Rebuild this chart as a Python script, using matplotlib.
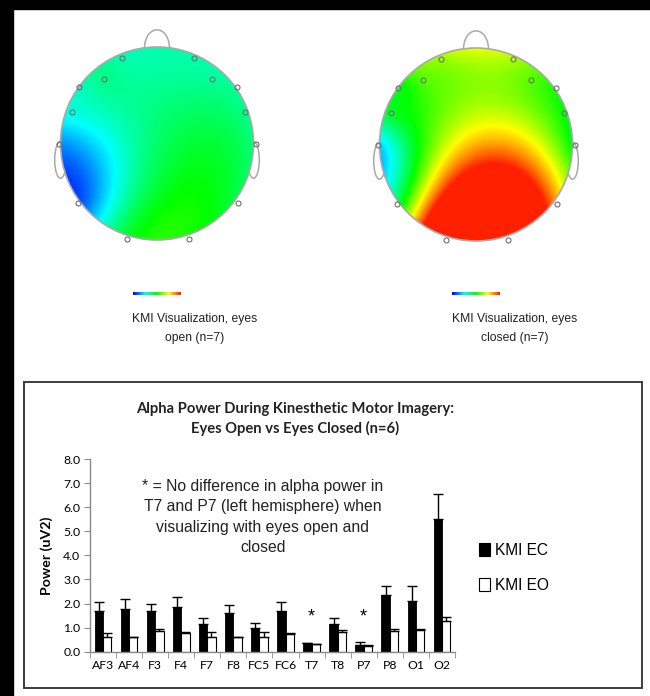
import numpy as np
import matplotlib
matplotlib.use('Agg')
import matplotlib.pyplot as plt
from matplotlib.colors import LinearSegmentedColormap
from matplotlib.patches import Circle, Ellipse, Rectangle, Patch, PathPatch
from matplotlib.path import Path

# bar chart data (n=6), alpha power in uV^2
channels = ['AF3', 'AF4', 'F3', 'F4', 'F7', 'F8', 'FC5', 'FC6',
            'T7', 'T8', 'P7', 'P8', 'O1', 'O2']
ec_power = [1.71, 1.78, 1.68, 1.87, 1.15, 1.59, 0.98, 1.69, 0.36, 1.13, 0.27, 2.35, 2.12, 5.50]
ec_err = [0.35, 0.39, 0.28, 0.41, 0.25, 0.35, 0.21, 0.37, 0.02, 0.27, 0.14, 0.37, 0.60, 1.05]
eo_power = [0.63, 0.59, 0.84, 0.77, 0.63, 0.59, 0.63, 0.73, 0.31, 0.80, 0.24, 0.86, 0.90, 1.28]
eo_err = [0.14, 0.03, 0.10, 0.05, 0.18, 0.03, 0.17, 0.05, 0.02, 0.11, 0.04, 0.08, 0.05, 0.15]
no_diff = ['T7', 'P7']

# scalp maps (n=7): electrode positions (nose up) and power at each site
elec_x = [-0.36, 0.38, -0.55, 0.57, -0.81, 0.83, -0.88, 0.91, -1.02, 1.03, -0.82, 0.84, -0.31, 0.33]
elec_y = [0.89, 0.89, 0.67, 0.67, 0.59, 0.59, 0.33, 0.33, -0.01, -0.01, -0.62, -0.62, -0.99, -0.99]
topo_eo = [1.00, 1.00, 1.10, 1.05, 0.95, 1.05, 0.85, 1.10, 0.42, 1.10, 0.22, 1.25, 1.40, 1.55]
topo_ec = [1.95, 2.00, 1.75, 1.75, 1.45, 1.55, 1.40, 1.50, 0.60, 1.40, 1.30, 2.55, 4.20, 4.40]
topo_lim = (0.0, 3.0)

rainbow = LinearSegmentedColormap.from_list(
    'alpha_map', ['#0000ff', '#00ffff', '#00ff00', '#ffff00', '#ff2000'])


def v4_surface(xe, ye, ve, gx, gy):
    # biharmonic spline (griddata 'v4')
    xe, ye, ve = np.asarray(xe), np.asarray(ye), np.asarray(ve)
    d = np.hypot(xe[:, None] - xe[None, :], ye[:, None] - ye[None, :])
    with np.errstate(divide='ignore', invalid='ignore'):
        g = np.where(d > 0, d ** 2 * (np.log(d) - 1), 0.0)
    w = np.linalg.solve(g, ve)
    dg = np.hypot(gx.ravel()[:, None] - xe[None, :], gy.ravel()[:, None] - ye[None, :])
    with np.errstate(divide='ignore', invalid='ignore'):
        gg = np.where(dg > 0, dg ** 2 * (np.log(dg) - 1), 0.0)
    return (gg @ w).reshape(gx.shape)


def draw_head(fig, cx, cy, values, caption, cap_x):
    W, H = 650, 696
    r = 96.5
    half = 1.3 * r
    ax = fig.add_axes([(cx - half) / W, (H - cy - half) / H, 2 * half / W, 2 * half / H])
    ax.set_xlim(-1.3, 1.3)
    ax.set_ylim(-1.3, 1.3)
    ax.axis('off')

    gx, gy = np.meshgrid(np.linspace(-1.05, 1.05, 260), np.linspace(-1.05, 1.05, 260))
    z = v4_surface(elec_x, elec_y, values, gx, gy)
    im = ax.imshow(z, extent=(-1.05, 1.05, -1.05, 1.05), origin='lower', cmap=rainbow,
                   vmin=topo_lim[0], vmax=topo_lim[1], interpolation='bilinear', zorder=2)
    disk = Circle((0, 0), 1.0, transform=ax.transData)
    im.set_clip_path(disk)

    line_c = '#a9a9a9'
    for sx in (-1, 1):
        ax.add_patch(Ellipse((sx * 1.0, -0.17), 0.12, 0.38, fill=False, ec=line_c, lw=1.1, zorder=1))
    nose = Path([(-0.13, 0.99), (-0.12, 1.24), (0.12, 1.24), (0.13, 0.99)],
                [Path.MOVETO, Path.CURVE4, Path.CURVE4, Path.CURVE4])
    ax.add_patch(PathPatch(nose, fill=False, ec=line_c, lw=1.1, zorder=1))
    ax.add_patch(Circle((0, 0), 1.0, fill=False, ec=line_c, lw=1.2, zorder=3))
    ax.plot(elec_x, elec_y, 'o', ms=3.6, mfc='none', mec='#6f6f6f', mew=0.8, zorder=4)

    # small colour scale under the head
    cb = fig.add_axes([(cx - 24) / W, (H - 295) / H, 48 / W, 3 / H])
    cb.imshow(np.linspace(0, 1, 100)[None, :], aspect='auto', cmap=rainbow)
    cb.axis('off')

    fig.text(cap_x / W, 1 - 328.5 / H, caption, ha='center', va='center',
             fontsize=8.7, family='Liberation Sans', color='#222222', linespacing=1.75)


fig = plt.figure(figsize=(6.5, 6.96), dpi=100)
fig.patch.set_facecolor('white')

# black margins
fig.patches.append(Rectangle((0, 1 - 9 / 696), 1, 9 / 696, transform=fig.transFigure,
                             color='black', zorder=0))
fig.patches.append(Rectangle((0, 0), 13 / 650, 1, transform=fig.transFigure,
                             color='black', zorder=0))

draw_head(fig, 157, 143.5, topo_eo, 'KMI Visualization, eyes\nopen (n=7)', 195)
draw_head(fig, 476, 144.5, topo_ec, 'KMI Visualization, eyes\nclosed (n=7)', 515)

# frame around the bar chart
fig.patches.append(Rectangle((24 / 650, 1 - 688 / 696), 618 / 650, 306 / 696,
                             transform=fig.transFigure, fill=False, ec='#3c3c3c', lw=1.4))

ax = fig.add_axes([90 / 650, 1 - 651.7 / 696, 365 / 650, 192.7 / 696])
x = np.arange(len(channels))
bw = 0.32
ax.bar(x - bw / 2, ec_power, bw, color='black', edgecolor='black', lw=0.6,
       yerr=[np.zeros(len(x)), ec_err], capsize=3.4,
       error_kw=dict(ecolor='black', elinewidth=1.0, capthick=1.0))
ax.bar(x + bw / 2, eo_power, bw, color='white', edgecolor='black', lw=0.8,
       yerr=[np.zeros(len(x)), eo_err], capsize=3.4,
       error_kw=dict(ecolor='black', elinewidth=1.0, capthick=1.0))

ax.set_xlim(-0.5, len(channels) - 0.5)
ax.set_ylim(0, 8)
ax.set_yticks(np.arange(0, 8.1, 1.0))
ax.set_yticklabels([f'{v:.1f}' for v in np.arange(0, 8.1, 1.0)], family='Lato', fontsize=8.8)
ax.set_xticks(x)
ax.set_xticklabels(channels, family='Lato', fontsize=8.8)
ax.set_xticks(np.arange(-0.5, len(channels), 1.0), minor=True)
ax.tick_params(axis='x', which='major', length=0, pad=6)
ax.tick_params(axis='x', which='minor', length=4, color='#8a8a8a', direction='out')
ax.tick_params(axis='y', length=4, color='#8a8a8a', direction='out', pad=3)
for s in ('top', 'right'):
    ax.spines[s].set_visible(False)
for s in ('left', 'bottom'):
    ax.spines[s].set_color('#8a8a8a')
    ax.spines[s].set_linewidth(1.0)
ax.set_ylabel('Power (uV2)', family='Lato', fontweight='bold', fontsize=10.2)
ax.yaxis.set_label_coords((53 - 90) / 365, 0.5)

for ch in no_diff:
    ax.text(channels.index(ch), 1.45, '*', ha='center', va='center',
            fontsize=13, family='Liberation Sans')

fig.text(263 / 650, 1 - 517 / 696,
         '* = No difference in alpha power in\nT7 and P7 (left hemisphere) when\n'
         'visualizing with eyes open and\nclosed',
         ha='center', va='center', fontsize=11.3, family='Liberation Sans',
         color='#222222', linespacing=1.45)

fig.text(295 / 650, 1 - 419 / 696,
         'Alpha Power During Kinesthetic Motor Imagery:\nEyes Open vs Eyes Closed (n=6)',
         ha='center', va='center', fontsize=10.6, family='Lato', fontweight='bold',
         color='#222222', linespacing=1.45)

handles = [Patch(facecolor='black', edgecolor='black', lw=0.8),
           Patch(facecolor='white', edgecolor='black', lw=0.8)]
fig.legend(handles, ['KMI EC', 'KMI EO'], loc='upper left',
           bbox_to_anchor=(465 / 650, 1 - 529 / 696), frameon=False,
           prop=dict(family='Liberation Sans', size=11.2), handlelength=0.7,
           handleheight=0.9, handletextpad=0.3, labelspacing=1.3)

fig.savefig('out.png', dpi=100)
